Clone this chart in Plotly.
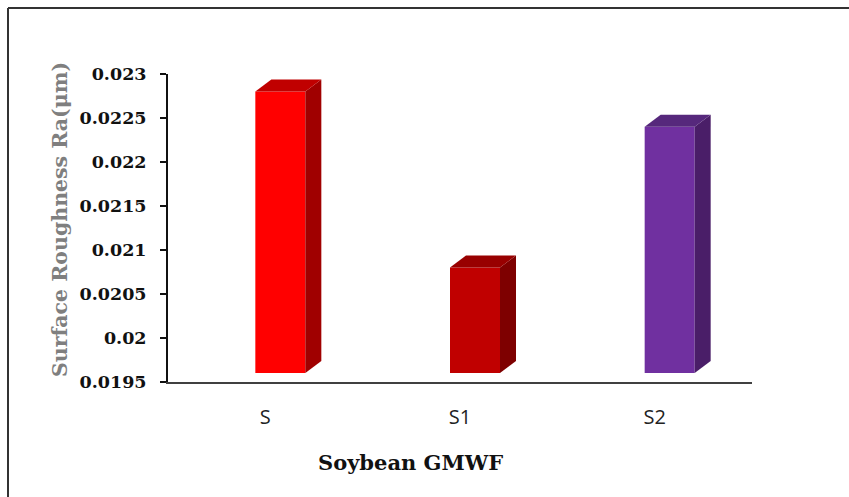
import plotly.graph_objects as go

# ---- data ----
categories = ["S", "S1", "S2"]
roughness = [0.0228, 0.0208, 0.0224]
tick_values = [0.0195, 0.02, 0.0205, 0.021, 0.0215, 0.022, 0.0225, 0.023]
tick_labels = ["0.0195", "0.02", "0.0205", "0.021", "0.0215", "0.022", "0.0225", "0.023"]

# face colours per bar: front, top, side
front_colors = ["#FF0000", "#C00000", "#7030A0"]
top_colors = ["#C00000", "#980000", "#56287C"]
side_colors = ["#A00000", "#7E0000", "#4A1E68"]

# ---- geometry of the pseudo-3D columns ----
W, H = 849, 497
L, R, T, B = 168, 97, 74, 115
plot_w = W - L - R
plot_h = H - T - B
y_min, y_max = 0.0195, 0.023
x_min, x_max = -0.5, len(categories) - 0.5
px_x = (x_max - x_min) / plot_w          # x units per pixel
px_y = (y_max - y_min) / plot_h          # y units per pixel

bar_w = 50 * px_x
shift = 15 * px_x
depth_x = 16 * px_x
depth_y = 12 * px_y
floor = y_min + 9 * px_y

fig = go.Figure()

for i, (cat, v) in enumerate(zip(categories, roughness)):
    xc = i + shift
    xl, xr = xc - bar_w / 2, xc + bar_w / 2
    # front face
    fig.add_trace(go.Bar(
        x=[xc], y=[v - floor], base=[floor], width=[bar_w],
        marker=dict(color=front_colors[i], line=dict(width=0)),
        name=cat, showlegend=False, hoverinfo="skip",
    ))
    # side face
    fig.add_trace(go.Scatter(
        x=[xr, xr, xr + depth_x, xr + depth_x, xr],
        y=[floor, v, v + depth_y, floor + depth_y, floor],
        fill="toself", fillcolor=side_colors[i], mode="lines",
        line=dict(width=0, color=side_colors[i]),
        showlegend=False, hoverinfo="skip",
    ))
    # top face
    fig.add_trace(go.Scatter(
        x=[xl, xr, xr + depth_x, xl + depth_x, xl],
        y=[v, v, v + depth_y, v + depth_y, v],
        fill="toself", fillcolor=top_colors[i], mode="lines",
        line=dict(width=0, color=top_colors[i]),
        showlegend=False, hoverinfo="skip",
    ))

def paper_x(px):
    return (px - L) / plot_w

def paper_y(py):
    return (H - B - py) / plot_h

fig.update_layout(
    width=W, height=H,
    margin=dict(l=L, r=R, t=T, b=B),
    paper_bgcolor="white", plot_bgcolor="white",
    barmode="overlay",
    xaxis=dict(
        range=[x_min, x_max], tickmode="array",
        tickvals=list(range(len(categories))), ticktext=categories,
        showgrid=False, zeroline=False, showline=True,
        linecolor="#404040", linewidth=2, ticks="",
        ticklabelstandoff=16,
        tickfont=dict(family="Open Sans", size=20, color="#222222"),
    ),
    yaxis=dict(
        range=[y_min, y_max], tickmode="array",
        tickvals=tick_values, ticktext=tick_labels,
        showgrid=False, zeroline=False, showline=True,
        linecolor="#111111", linewidth=2,
        ticks="outside", ticklen=6, tickwidth=1.5, tickcolor="#111111",
        ticklabelstandoff=10,
        tickfont=dict(family="DejaVu Serif", size=17.5, color="#111111", weight="bold"),
    ),
    annotations=[
        dict(text="Surface Roughness Ra(μm)", xref="paper", yref="paper",
             x=paper_x(60), y=paper_y(220), textangle=-90, showarrow=False,
             xanchor="center", yanchor="middle",
             font=dict(family="DejaVu Serif", size=20.5, color="#7F7F7F", weight="bold")),
        dict(text="Soybean GMWF", xref="paper", yref="paper",
             x=paper_x(410), y=paper_y(462), showarrow=False,
             xanchor="center", yanchor="middle",
             font=dict(family="DejaVu Serif", size=21, color="#111111", weight="bold")),
    ],
    shapes=[
        dict(type="line", xref="paper", yref="paper",
             x0=paper_x(8), x1=paper_x(W), y0=paper_y(8), y1=paper_y(8),
             line=dict(color="#333333", width=2)),
        dict(type="line", xref="paper", yref="paper",
             x0=paper_x(8), x1=paper_x(8), y0=paper_y(8), y1=paper_y(H),
             line=dict(color="#333333", width=2)),
    ],
)

fig.write_html("out.html")
